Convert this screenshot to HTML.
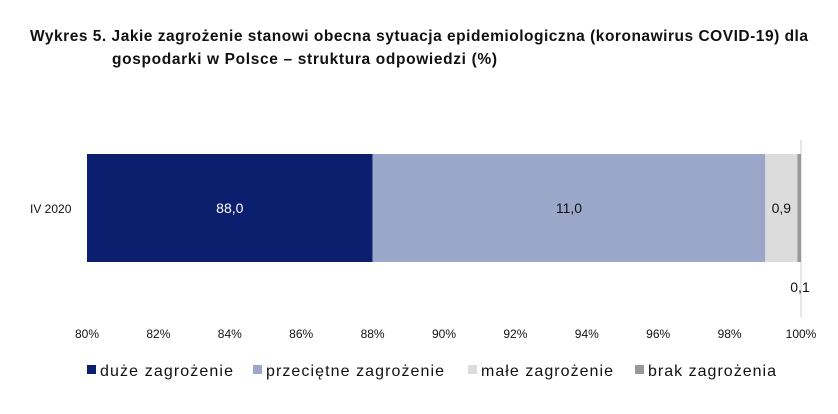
<!DOCTYPE html>
<html><head><meta charset="utf-8"><style>
body{margin:0;background:#fff;font-family:"Liberation Sans",sans-serif;}
svg text{font-family:"Liberation Sans",sans-serif;}
</style></head><body>
<svg width="838" height="409">
<text x="30" y="41" font-size="15.5" font-weight="bold" fill="#111" textLength="778" lengthAdjust="spacing">Wykres 5. Jakie zagrożenie stanowi obecna sytuacja epidemiologiczna (koronawirus COVID-19) dla</text>
<text x="112" y="64" font-size="15.5" font-weight="bold" fill="#111" textLength="385" lengthAdjust="spacing">gospodarki w Polsce – struktura odpowiedzi (%)</text>
<g id="plot"></g>
</svg>
<script>
const categories=["IV 2020"];
const seriesNames=["duże zagrożenie","przeciętne zagrożenie","małe zagrożenie","brak zagrożenia"];
const values=[88.0,11.0,0.9,0.1];
const valueLabels=["88,0","11,0","0,9","0,1"];
const ticks=[80,82,84,86,88,90,92,94,96,98,100];
const colors=["#0c1f6e","#9aa7c9","#dcdcdc","#999999"];
const textColors=["#fff","#111","#111","#111"];
const x=v=>87+(v-80)*(801-87)/20;
const ns="http://www.w3.org/2000/svg";
const g=document.getElementById('plot');
function mk(t,a){const e=document.createElementNS(ns,t);for(const k in a)e.setAttribute(k,a[k]);g.appendChild(e);return e;}
const grid=mk('line',{x1:x(100),x2:x(100),y1:140,y2:317,stroke:'#dedede','stroke-width':1.5});


const y0=154,h=108;
const cl=mk('text',{x:30,y:y0+h/2+5,'font-size':12,fill:'#111'});cl.textContent=categories[0];


let cum=0;
values.forEach((v,i)=>{
 const a=Math.max(cum,80),b=cum+v;cum=b;
 const r=mk('rect',{x:x(a),y:y0,width:x(b)-x(a),height:h,fill:colors[i]});
 
 
 let tx=(x(a)+x(b))/2,ty=y0+h/2+5;
 if(i===3){ty=292;tx=x(b)-1;}
 const t=mk('text',{x:tx,y:ty,'font-size':14,fill:textColors[i],'text-anchor':'middle'});
 t.textContent=valueLabels[i];
 
 
});
ticks.forEach(t=>{
 const e=mk('text',{x:x(t),y:338,'font-size':12,fill:'#111','text-anchor':'middle'});
 e.textContent=t+'%';
 
 
});
const lx=[87,253,468,635];
const lw=[133,178,132,128];
seriesNames.forEach((n,i)=>{
 const s=mk('rect',{x:lx[i],y:365,width:9,height:9,fill:colors[i]});
 
 
 const t=mk('text',{x:lx[i]+13,y:376,'font-size':16,fill:'#111',textLength:lw[i],lengthAdjust:'spacing'});
 t.textContent=n;
 
 
});
</script>
</body></html>
